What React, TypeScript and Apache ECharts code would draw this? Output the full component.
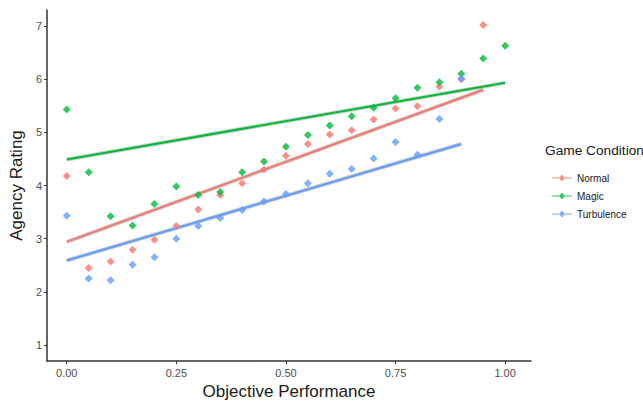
import React, { useEffect, useRef } from "react";
import * as echarts from "echarts";

const xValues = [0, 0.05, 0.1, 0.15, 0.2, 0.25, 0.3, 0.35, 0.4, 0.45, 0.5, 0.55, 0.6, 0.65, 0.7, 0.75, 0.8, 0.85, 0.9, 0.95, 1.0];
const normalY = [4.18, 2.45, 2.57, 2.79, 2.98, 3.24, 3.55, 3.82, 4.04, 4.3, 4.56, 4.78, 4.96, 5.04, 5.24, 5.45, 5.49, 5.86, 6.0, 7.02];
const magicY = [5.43, 4.25, 3.42, 3.25, 3.65, 3.98, 3.82, 3.88, 4.25, 4.45, 4.73, 4.95, 5.13, 5.3, 5.46, 5.64, 5.84, 5.94, 6.1, 6.39, 6.63];
const turbulenceY = [3.43, 2.25, 2.22, 2.51, 2.65, 3.0, 3.24, 3.39, 3.54, 3.7, 3.84, 4.04, 4.22, 4.31, 4.51, 4.82, 4.58, 5.25, 6.01];

const normalFit = [[0, 2.94], [0.95, 5.8]];
const magicFit = [[0, 4.49], [1.0, 5.93]];
const turbulenceFit = [[0, 2.59], [0.9, 4.78]];

const xTicks = [0, 0.25, 0.5, 0.75, 1.0];
const yTicks = [1, 2, 3, 4, 5, 6, 7];

const seriesNames = ["Normal", "Magic", "Turbulence"];
const colors = ["#F8766D", "#00BA38", "#619CFF"];

const FONT = "'Liberation Sans', Arial, sans-serif";

export default function App() {
  const ref = useRef<HTMLDivElement>(null);
  useEffect(() => {
    document.body.style.margin = "0";
    const chart = echarts.init(ref.current!, null, { renderer: "svg" });
    const ys = [normalY, magicY, turbulenceY];
    const fits = [normalFit, magicFit, turbulenceFit];
    const scatter = seriesNames.map((name, i) => ({
      name,
      type: "scatter",
      symbol: "diamond",
      symbolSize: 8,
      itemStyle: { color: colors[i] },
      data: ys[i].map((y, j) => [xValues[j], y]),
      z: 5,
    }));
    const shadows = seriesNames.map((name, i) => ({
      name: name + " fit band",
      type: "line",
      symbol: "none",
      lineStyle: { color: "rgba(110,110,110,0.35)", width: 4 },
      data: fits[i],
      z: 2,
      silent: true,
    }));
    const lines = seriesNames.map((name, i) => ({
      name: name + " fit",
      type: "line",
      symbol: "none",
      lineStyle: { color: colors[i], width: 2 },
      data: fits[i],
      z: 3,
      silent: true,
    }));
    const legendIcon = "path://M0,4h7.5l2.5,-3l2.5,3h7.5v1.2h-7.5l-2.5,3l-2.5,-3h-7.5z";
    chart.setOption({
      animation: false,
      backgroundColor: "#ffffff",
      textStyle: { fontFamily: FONT },
      grid: { left: 43, right: 112, top: 10, bottom: 43, containLabel: false },
      xAxis: {
        type: "value",
        min: -0.045,
        max: 1.059,
        name: "Objective Performance",
        nameLocation: "middle",
        nameGap: 22,
        nameTextStyle: { fontSize: 17, color: "#1a1a1a", fontFamily: FONT },
        axisLine: { show: true, onZero: false, lineStyle: { color: "#333", width: 1.5 } },
        axisTick: { show: true, length: 3, customValues: xTicks, lineStyle: { color: "#333" } },
        axisLabel: {
          customValues: xTicks,
          formatter: (v: number) => v.toFixed(2),
          color: "#4d4d4d",
          fontSize: 11,
          margin: 6,
          fontFamily: FONT,
        },
        splitLine: { show: false },
      },
      yAxis: {
        type: "value",
        min: 0.7,
        max: 7.3,
        name: "Agency Rating",
        nameLocation: "middle",
        nameGap: 20,
        nameTextStyle: { fontSize: 17, color: "#1a1a1a", fontFamily: FONT },
        axisLine: { show: true, onZero: false, lineStyle: { color: "#333", width: 1.5 } },
        axisTick: { show: true, length: 3, customValues: yTicks, lineStyle: { color: "#333" } },
        axisLabel: { customValues: yTicks, color: "#4d4d4d", fontSize: 11, margin: 5, fontFamily: FONT },
        splitLine: { show: false },
      },
      legend: {
        orient: "vertical",
        left: 547,
        top: 168,
        itemWidth: 20,
        itemHeight: 9,
        itemGap: 8,
        data: seriesNames.map((n) => ({ name: n, icon: legendIcon })),
        textStyle: { fontSize: 10, color: "#1a1a1a", fontFamily: FONT },
      },
      graphic: [
        {
          type: "text",
          left: 545,
          top: 143,
          style: { text: "Game Condition", fontSize: 13.7, fill: "#1a1a1a", fontFamily: FONT },
        },
      ],
      series: [...shadows, ...lines, ...scatter],
    });
    return () => chart.dispose();
  }, []);
  return <div ref={ref} style={{ width: 643, height: 405, position: "absolute", left: 0, top: 0 }} />;
}
